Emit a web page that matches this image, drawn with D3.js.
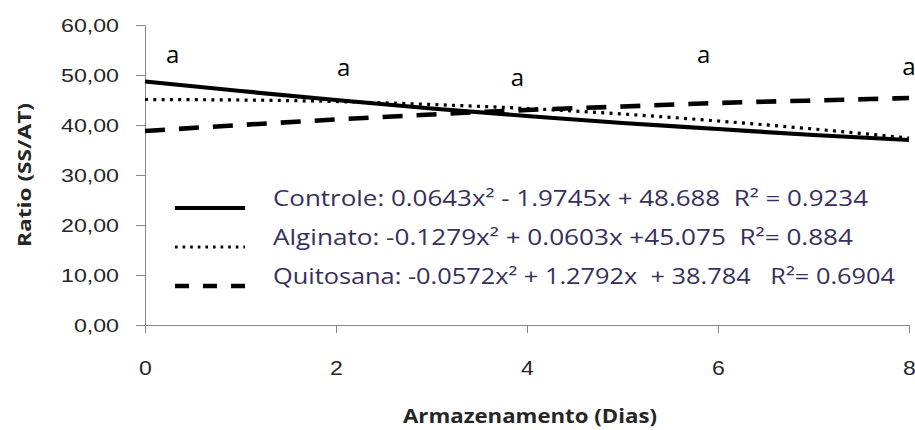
<!DOCTYPE html>
<html>
<head>
<meta charset="utf-8">
<script src="https://cdn.jsdelivr.net/npm/d3@7"></script>
<style>
  body { margin: 0; background: #fff; }
  svg { display: block; font-family: "Open Sans", sans-serif; }
  .legend-text { white-space: pre; }
</style>
</head>
<body>
<svg id="chart" width="915" height="430"></svg>
<script>
// Storage days and fitted Ratio (SS/AT) values per coating
const days = [0, 1, 2, 3, 4, 5, 6, 7, 8];
const controle  = [48.7, 46.8, 45.0, 43.3, 41.8, 40.4, 39.2, 38.0, 37.0];
const alginato  = [45.1, 45.0, 44.7, 44.1, 43.3, 42.2, 40.8, 39.2, 37.4];
const quitosana = [38.8, 40.0, 41.1, 42.1, 43.0, 43.7, 44.4, 44.9, 45.4];

const legendLabels = [
  "Controle: 0.0643x² - 1.9745x + 48.688  R² = 0.9234",
  "Alginato: -0.1279x² + 0.0603x +45.075  R²= 0.884",
  "Quitosana: -0.0572x² + 1.2792x  + 38.784   R²= 0.6904"
];

const xTicks = [0, 2, 4, 6, 8];
const yTicks = [0, 10, 20, 30, 40, 50, 60];

// Significance letters placed over the sampling days
const letterDays   = [0.29, 2.08, 3.9, 5.85, 8.0];
const letterValues = [53.6, 51.0, 49.0, 53.6, 51.2];
const letters      = ["a", "a", "a", "a", "a"];

const svg = d3.select("#chart");

const x = d3.scaleLinear().domain([0, 8]).range([145, 909]);
const y = d3.scaleLinear().domain([0, 60]).range([325, 25]);

const axisColor = "#878787";
const textColor = "#262626";

// stretch a text element horizontally by factor k
function widen(sel, k) {
  sel.each(function () {
    const w = this.getComputedTextLength();
    d3.select(this).attr("textLength", w * k).attr("lengthAdjust", "spacingAndGlyphs");
  });
}
function fitTo(sel, width) {
  sel.attr("textLength", width).attr("lengthAdjust", "spacingAndGlyphs");
}

// Y axis
const yAxis = svg.append("g")
  .attr("transform", "translate(145,0)")
  .call(d3.axisLeft(y)
    .tickValues(yTicks)
    .tickSize(9)
    .tickSizeOuter(0)
    .tickPadding(17)
    .tickFormat(d => d3.format(".2f")(d).replace(".", ",")));
yAxis.select(".domain").attr("stroke", axisColor);
yAxis.selectAll(".tick line").attr("stroke", axisColor);
yAxis.selectAll(".tick text")
  .attr("fill", textColor)
  .style("font-size", "19px")
  .attr("dy", "0.36em")
  .call(widen, 1.22);

// X axis
const xAxis = svg.append("g")
  .attr("transform", "translate(0,325)")
  .call(d3.axisBottom(x)
    .tickValues(xTicks)
    .tickSize(8)
    .tickSizeOuter(0)
    .tickFormat(d3.format("d")));
xAxis.select(".domain").attr("stroke", axisColor);
xAxis.selectAll(".tick line").attr("stroke", axisColor);
xAxis.selectAll(".tick text")
  .attr("fill", textColor)
  .style("font-size", "20px")
  .attr("y", 43)
  .attr("dy", "0.36em")
  .call(widen, 1.15);

// Axis titles
svg.append("text")
  .attr("transform", "translate(31,175) rotate(-90)")
  .attr("text-anchor", "middle")
  .attr("fill", textColor)
  .style("font-size", "18px")
  .style("font-weight", "bold")
  .text("Ratio (SS/AT)")
  .call(fitTo, 144);

svg.append("text")
  .attr("x", 530)
  .attr("y", 423)
  .attr("text-anchor", "middle")
  .attr("fill", textColor)
  .style("font-size", "19px")
  .style("font-weight", "bold")
  .text("Armazenamento (Dias)")
  .call(fitTo, 254);

// Trend curves
const styles = [
  { values: controle,  width: 4.2, dash: null,    cap: "butt" },
  { values: alginato,  width: 3.2, dash: "3 5.3", cap: "butt" },
  { values: quitosana, width: 4.6, dash: "20 14", cap: "butt" }
];

const line = values => d3.line()
  .x((d, i) => x(days[i]))
  .y(d => y(d))
  .curve(d3.curveNatural)(values);

svg.append("g").selectAll("path")
  .data(styles)
  .join("path")
  .attr("d", s => line(s.values))
  .attr("fill", "none")
  .attr("stroke", "#000")
  .attr("stroke-width", s => s.width)
  .attr("stroke-dasharray", s => s.dash)
  .attr("stroke-linecap", s => s.cap);

// Letters
svg.append("g").selectAll("text")
  .data(letters)
  .join("text")
  .attr("x", (d, i) => x(letterDays[i]))
  .attr("y", (d, i) => y(letterValues[i]))
  .attr("dy", "0.27em")
  .attr("text-anchor", "middle")
  .attr("fill", "#000")
  .style("font-size", "24px")
  .text(d => d);

// Legend
const legendKeys = [
  { width: 4.2, dash: null },
  { width: 3.2, dash: "2.6 5" },
  { width: 4.6, dash: "14 14" }
];
const legendRows = [206, 245, 284];
const legendWidths = [595, 580, 622];

const legend = svg.append("g");
legend.selectAll("line")
  .data(legendKeys)
  .join("line")
  .attr("x1", 175)
  .attr("x2", 245)
  .attr("y1", (d, i) => legendRows[i] + 2)
  .attr("y2", (d, i) => legendRows[i] + 2)
  .attr("stroke", "#000")
  .attr("stroke-width", d => d.width)
  .attr("stroke-dasharray", d => d.dash);

legend.selectAll("text")
  .data(legendLabels)
  .join("text")
  .attr("class", "legend-text")
  .attr("x", 273)
  .attr("y", (d, i) => legendRows[i])
  .attr("fill", "#372f5c")
  .style("font-size", "21px")
  .text(d => d)
  .each(function (d, i) { d3.select(this).call(fitTo, legendWidths[i]); });
</script>
</body>
</html>
